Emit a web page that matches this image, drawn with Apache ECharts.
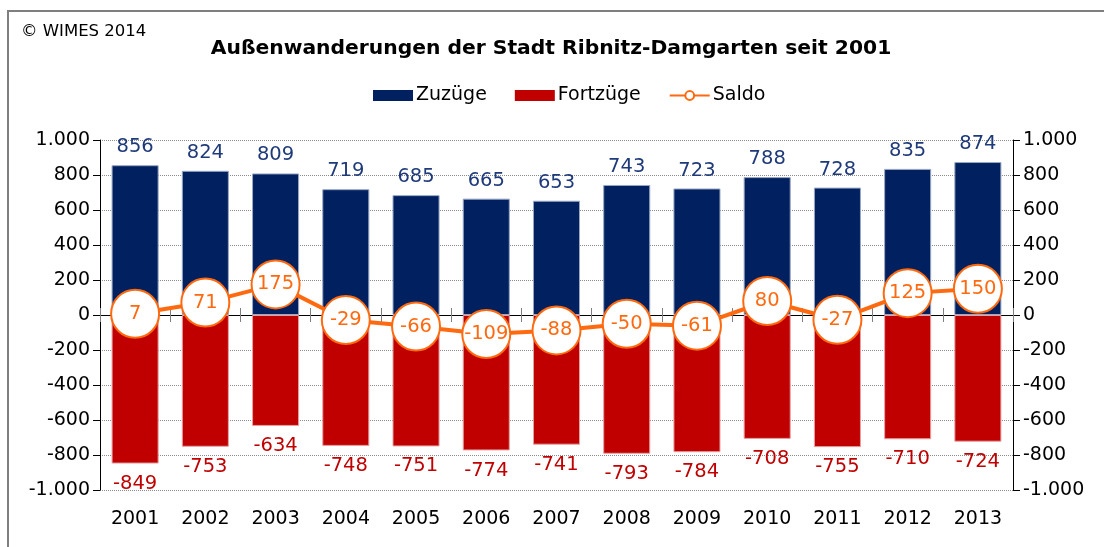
<!DOCTYPE html>
<html>
<head>
<meta charset="utf-8">
<script src="https://cdn.jsdelivr.net/npm/echarts@6/dist/echarts.min.js"></script>
<style>
  html, body { margin: 0; padding: 0; background: #fff; }
  #chart { width: 1104px; height: 547px; }
</style>
</head>
<body>
<div id="chart"></div>
<script>
  // Werte
  var years = ['2001', '2002', '2003', '2004', '2005', '2006', '2007', '2008', '2009', '2010', '2011', '2012', '2013'];
  var zuzuege = [856, 824, 809, 719, 685, 665, 653, 743, 723, 788, 728, 835, 874];
  var fortzuege = [-849, -753, -634, -748, -751, -774, -741, -793, -784, -708, -755, -710, -724];
  var saldo = [7, 71, 175, -29, -66, -109, -88, -50, -61, 80, -27, 125, 150];

  var FONT = 'DejaVu Sans';
  var NAVY = '#002060';
  var RED = '#C00000';
  var ORANGE = '#FF6A10';

  // deutsches Zahlenformat: 1.000
  function deNum(v) {
    var s = String(Math.abs(v)).replace(/\B(?=(\d{3})+(?!\d))/g, '.');
    return (v < 0 ? '-' : '') + s;
  }

  var chart = echarts.init(document.getElementById('chart'));

  var yAxisBase = {
    type: 'value',
    min: -1000,
    max: 1000,
    interval: 200,
    axisLine: { show: true, lineStyle: { color: '#000', width: 1 } },
    axisTick: { show: true, length: 7, lineStyle: { color: '#000' } },
    axisLabel: { color: '#000', fontFamily: FONT, fontSize: 19, margin: 10, formatter: deNum },
    splitLine: { show: true, lineStyle: { color: '#8c8c8c', type: [1, 1], width: 1 } }
  };

  chart.setOption({
    animation: false,
    textStyle: { fontFamily: FONT },
    graphic: [
      {
        type: 'rect',
        shape: { x: 8, y: 11, width: 1200, height: 600 },
        style: { fill: 'none', stroke: '#7f7f7f', lineWidth: 2 },
        silent: true
      },
      {
        type: 'text',
        left: 21,
        top: 23,
        style: { text: '© WIMES 2014', fill: '#000', font: '16.5px "DejaVu Sans"' }
      }
    ],
    title: {
      text: 'Außenwanderungen der Stadt Ribnitz-Damgarten seit 2001',
      left: 546,
      textAlign: 'center',
      top: 34,
      textStyle: { fontFamily: FONT, fontWeight: 'bold', fontSize: 20.3, color: '#000' }
    },
    legend: {
      top: 81,
      left: 368,
      itemWidth: 40,
      itemHeight: 11,
      itemGap: 28,
      textStyle: { fontFamily: FONT, fontSize: 19, color: '#000', padding: [0, 0, 0, -2] },
      data: [
        { name: 'Zuzüge', icon: 'rect', itemStyle: { borderWidth: 0 } },
        { name: 'Fortzüge', icon: 'rect', itemStyle: { borderWidth: 0 } },
        { name: 'Saldo' }
      ]
    },
    grid: { left: 100, right: 91, top: 140, bottom: 57 },
    xAxis: [
      {
        type: 'category',
        data: years,
        position: 'bottom',
        axisLine: { show: false, onZero: false },
        axisTick: { show: false },
        axisLabel: { color: '#000', fontFamily: FONT, fontSize: 19, margin: 20 }
      },
      {
        type: 'category',
        data: years,
        position: 'bottom',
        axisLine: { show: true, onZero: true, lineStyle: { color: '#000', width: 1 } },
        axisTick: { show: true, length: 7, lineStyle: { color: '#808080' } },
        axisLabel: { show: false }
      },
      {
        type: 'category',
        data: years,
        position: 'top',
        axisLine: { show: false, onZero: true },
        axisTick: { show: true, length: 7, lineStyle: { color: '#808080' } },
        axisLabel: { show: false }
      }
    ],
    yAxis: [
      Object.assign({}, yAxisBase, { position: 'left' }),
      Object.assign({}, yAxisBase, { position: 'right', splitLine: { show: false } })
    ],
    series: [
      {
        name: 'Zuzüge',
        type: 'bar',
        stack: 'wanderung',
        barCategoryGap: '33%',
        data: zuzuege,
        itemStyle: { color: NAVY, borderColor: '#9aa8c4', borderWidth: 1 },
        label: {
          show: true,
          position: 'top',
          distance: 8,
          color: '#1F3A7A',
          fontFamily: FONT,
          fontSize: 19.5,
          formatter: function (p) { return deNum(p.value); }
        },
        z: 2
      },
      {
        name: 'Fortzüge',
        type: 'bar',
        stack: 'wanderung',
        data: fortzuege,
        itemStyle: { color: RED, borderColor: '#e8a0a0', borderWidth: 1 },
        label: {
          show: true,
          position: 'bottom',
          distance: 10,
          color: RED,
          fontFamily: FONT,
          fontSize: 19.5,
          formatter: function (p) { return deNum(p.value); }
        },
        z: 2
      },
      {
        name: 'Saldo',
        type: 'line',
        data: saldo,
        symbol: 'circle',
        symbolSize: 48,
        lineStyle: { color: ORANGE, width: 4 },
        itemStyle: { color: '#fff', borderColor: ORANGE, borderWidth: 2 },
        label: {
          show: true,
          position: 'inside',
          color: ORANGE,
          fontFamily: FONT,
          fontSize: 19.5
        },
        z: 5
      }
    ]
  });
</script>
</body>
</html>
